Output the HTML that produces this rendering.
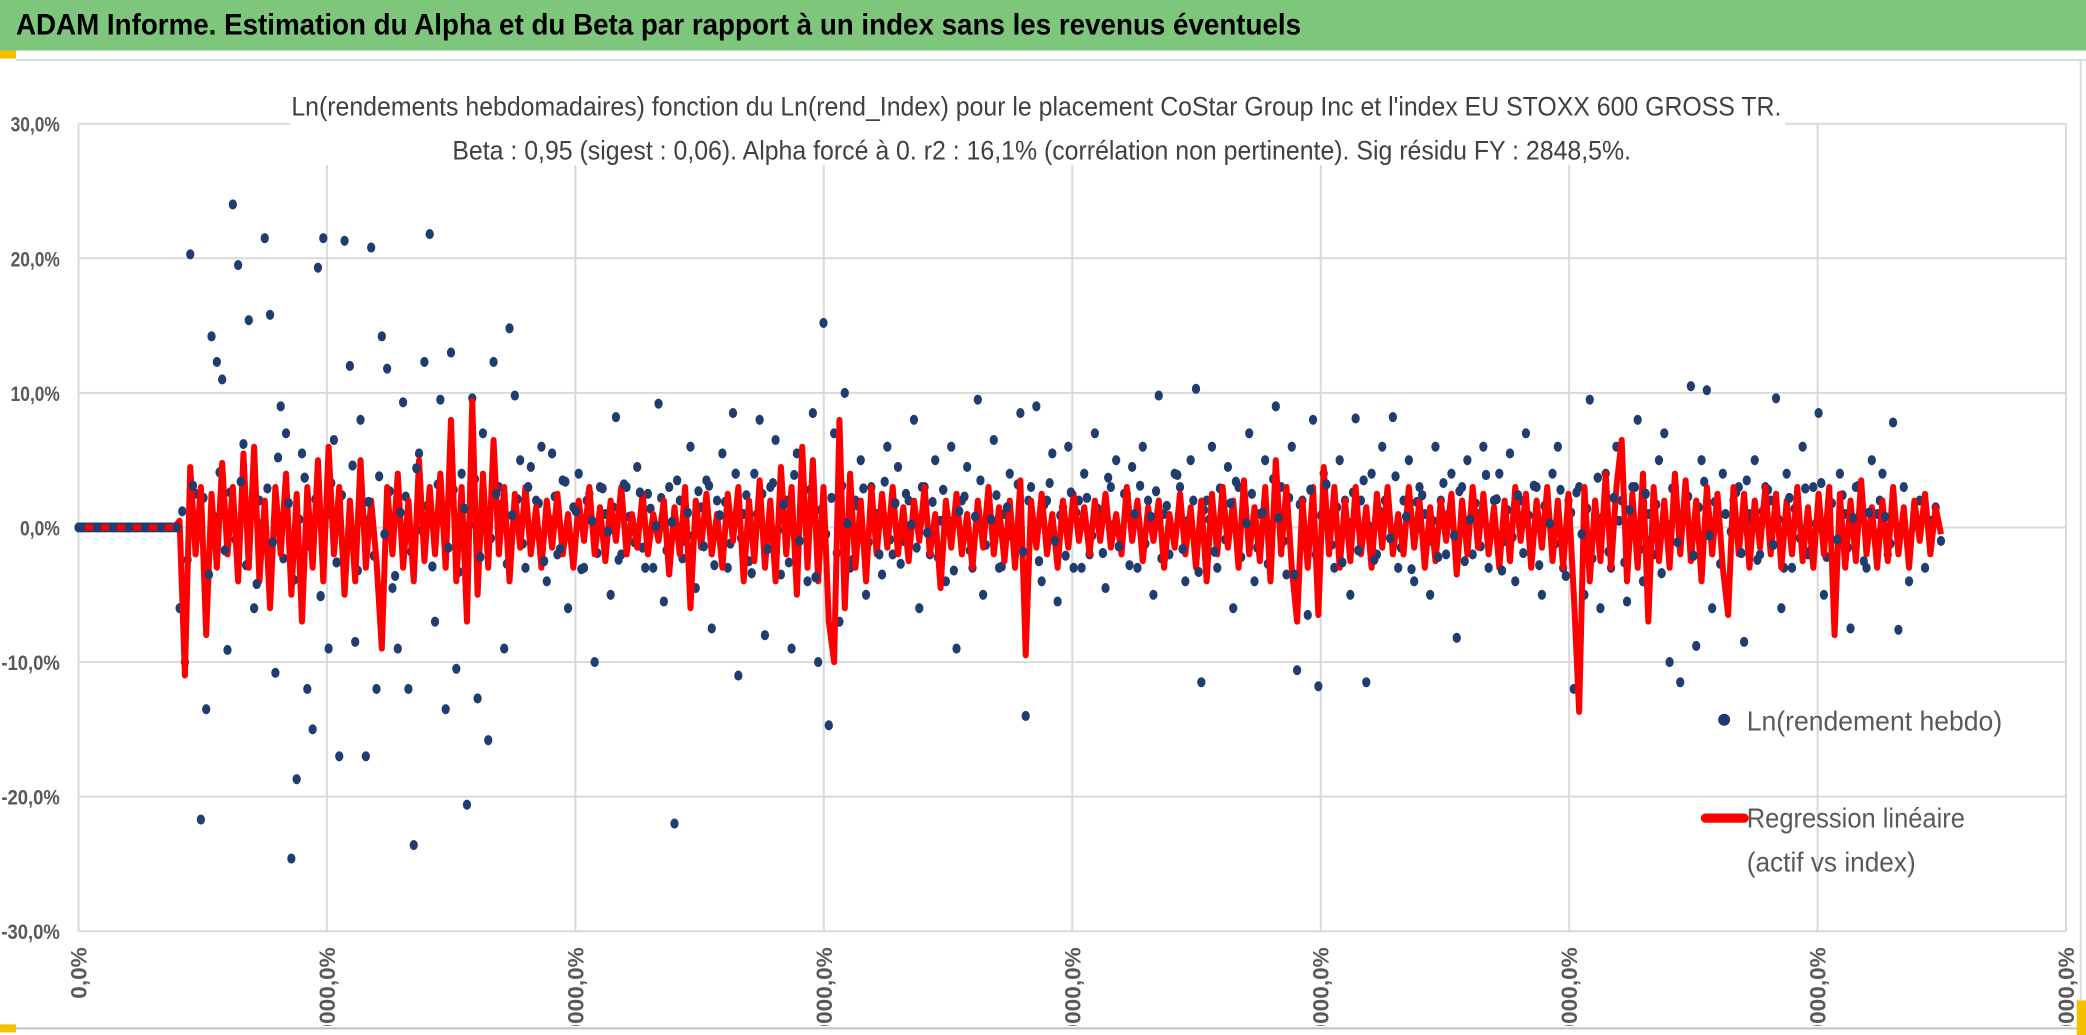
<!DOCTYPE html>
<html><head><meta charset="utf-8"><style>
html,body{margin:0;padding:0;background:#fff;}
svg{display:block;font-family:"Liberation Sans",sans-serif;}
</style></head><body>
<svg id="chart" width="2086" height="1035" viewBox="0 0 1568 778" preserveAspectRatio="none" xmlns="http://www.w3.org/2000/svg">
<defs><clipPath id="lblclip"><rect x="0" y="702" width="1568" height="69"/></clipPath></defs>
<rect x="0" y="0" width="1568" height="38" fill="#7dc67c"/>
<text x="12" y="26" font-size="22" font-weight="bold" fill="#000" textLength="966" lengthAdjust="spacingAndGlyphs">ADAM Informe. Estimation du Alpha et du Beta par rapport à un index sans les revenus éventuels</text>
<rect x="0" y="38" width="12" height="6" fill="#f5c000"/>
<line x1="12" y1="45" x2="1568" y2="45" stroke="#d9d9d9" stroke-width="1.5"/>
<g id="grid"></g>
<g id="marks"></g>
<rect x="218" y="66" width="1124" height="58" fill="#fff"/>
<text x="779" y="87" font-size="20" fill="#404040" text-anchor="middle" textLength="1120" lengthAdjust="spacingAndGlyphs">Ln(rendements hebdomadaires) fonction du Ln(rend_Index) pour le placement CoStar Group Inc et l'index EU STOXX 600 GROSS TR.</text>
<text x="783" y="120" font-size="20" fill="#404040" text-anchor="middle" textLength="886" lengthAdjust="spacingAndGlyphs">Beta : 0,95 (sigest : 0,06). Alpha forcé à 0. r2 : 16,1% (corrélation non pertinente). Sig résidu FY : 2848,5%.</text>
<g id="axes"></g>
<g id="xlabels" clip-path="url(#lblclip)"></g>
<g>
<circle cx="1296" cy="541" r="4.5" fill="#1f3a6e"/>
<text x="1313" y="549" font-size="21" fill="#595959" textLength="192" lengthAdjust="spacingAndGlyphs">Ln(rendement hebdo)</text>
<line x1="1282" y1="615" x2="1311" y2="615" stroke="#ff0000" stroke-width="7" stroke-linecap="round"/>
<text x="1313" y="622" font-size="21" fill="#595959" textLength="164" lengthAdjust="spacingAndGlyphs">Regression linéaire</text>
<text x="1313" y="655" font-size="21" fill="#595959" textLength="127" lengthAdjust="spacingAndGlyphs">(actif vs index)</text>
</g>
<line x1="0" y1="773" x2="1568" y2="773" stroke="#bfbfbf" stroke-width="1.5"/>
<rect x="0" y="770" width="12" height="6" fill="#f5c000"/>
<rect x="1561" y="752" width="7" height="26" fill="#f5c000"/>
<line x1="1564" y1="45" x2="1564" y2="752" stroke="#d9d9d9" stroke-width="1.5"/>
</svg>
<script>
const yTicks=[30,20,10,0,-10,-20,-30];
const yTickLabels=["30,0%","20,0%","10,0%","0,0%","-10,0%","-20,0%","-30,0%"];
const xTicks=[0,1,2,3,4,5,6,7,8];
const xTickLabels=["0,0%","10000,0%","20000,0%","30000,0%","40000,0%","50000,0%","60000,0%","70000,0%","80000,0%"];
const weekA=[0,0,0,0,0,0,0,0,0,0,0,0,0,0,0,0,0,0,0,
-6,-10,20.3,2.5,-21.7,-13.5,14.2,12.3,11,-9.1,
24,19.5,6.2,15.4,-6,2,21.5,15.8,-10.8,9,
7,-24.6,-18.7,5.5,-12,-15,19.3,21.5,-9,6.5,
-17,21.3,12,-8.5,8,-17,20.8,-12,14.2,11.8,
-4.5,-9,9.3,-12,-23.6,5.5,12.3,21.8,-7,9.5,
-13.5,13,-10.5,4,-20.6,9.6,-12.7,7,-15.8,12.3,
3,-9,14.8,9.8,5,-3,4.5,2,6,-4,
5.5,-2,3.5,-6,1.5,4,-3,2.5,-10,3,
1,-5,8.2,-2,3,0.5,4.5,-1.5,2.5,-3,
9.2,-5.5,3,-22,2,-1,6,-4.5,1.5,3.5,
-7.5,2,5.5,-3,8.5,-11,1,-2.5,4,8,
-8,3,6.5,-3.5,2,-9,5.5,1,-4,8.5,
-10,15.2,-14.7,7,-7,10,-3,2,5,-5,
3,1,-3.5,6,-2,4.5,-1,2,8,-6,
3,-2,5,0.5,-4,6,-9,2,4.5,-3,
9.5,-5,2,6.5,-3,1,4,-2,8.5,-14,
3,9,-4,2,5.5,-5.5,1.5,6,-3,2,
4,-2,7,1,-4.5,3,5,-1,2.5,4.5,
-3,6,2,-5,9.8,1,-2,4,3,-4,
5,10.3,-11.5,2,6,-3,1,4.5,-6,3,
2,7,-4,1,5,-2,9,3,-3.5,6,
-10.6,2,-6.5,8,-11.8,4,1,-3,5,2,
-5,8.1,2,-11.5,4,-2,6,1,8.2,-3,
2,5,-4,3,1,-5,6,2,-2,4,
-8.2,3,5,-2,1,6,-3,2,4,-1,
5.5,-4,2,7,-2,3,-5,1,4,6,
-3,2,-12,3,-5,9.5,1,-6,4,-3,
6,2,-5.5,3,8,-4,1,-2,5,7,
-10,3,-11.5,2,10.5,-8.8,5,10.2,-6,1,
4,-4,2,3,-8.5,1,5,-2,3,2,
9.6,-6,4,-3,1,6,-2,3,8.5,-5,
2,-4,4,1,-7.5,3,2,-3,5,1,
4,-2,7.8,-7.6,3,-4,1,2,-3,0.5,1.5,-1];
const weekB=[0,0,0,0,0,0,0,0,0,0,0,0,0,0,0,0,0,0,0,
1.2,-2.4,3.1,-0.6,2.2,-3.5,0.8,4.1,-1.7,2.6,
-0.9,3.4,-2.8,1.5,-4.2,0.3,2.9,-1.1,5.2,-2.3,
1.8,-3.9,0.6,3.7,-1.4,2.1,-5.1,0.9,3.3,-2.6,
2.4,-1.3,4.6,-3.2,0.7,1.9,-2.1,3.8,-0.5,2.7,
-3.6,1.1,2.3,-1.8,4.4,-0.2,1.6,-2.9,3.2,0.4,
-1.5,2.8,-3.3,1.4,0.2,3.6,-2.2,1.3,-0.8,2.5,
1.7,-2.7,0.9,2.1,-1.2,3,-0.4,1.8,-2.5,0.6,
2.3,-1.6,3.4,-0.7,1.2,-3.1,2,0.5,-1.9,2.9,
-0.3,1.5,-2.4,3.2,0.8,-1.1,2.6,-3,1.4,0.1,
2.2,-1.7,0.4,3.5,-2.3,1.1,-0.6,2.7,-1.4,3.1,
-2.8,0.9,1.9,-1.2,4,-0.8,2.4,-3.4,1,2.5,
-1.6,3.3,-0.2,1.7,-2.6,3.9,-1,0.6,2.8,-3.7,
1.3,-0.5,2.2,-1.9,3.1,0.3,-2.4,1.6,2.9,-1.1,
0.7,-2,3.4,-0.9,1.8,-2.7,2.5,0.2,-1.5,3,
-0.4,1.9,-2.2,2.8,0.5,-3.2,1.2,2.3,-1.7,0.8,
3.5,-1.3,0.6,2.4,-2.9,1.5,-0.7,3.2,-1.8,2,
0.4,-2.5,1.7,3.3,-1,0.9,-2.1,2.6,1.1,-3,
2.2,-0.6,1.4,-1.9,3.7,0.2,-1.4,2.5,-2.8,1,
3.1,-1.2,0.8,2.7,-2.3,1.6,-0.3,3.9,-1.6,0.5,
2,-3.3,1.3,0.6,-1.8,2.9,-0.9,1.8,3.4,-2.2,
0.3,2.5,-1.5,1.1,-2.7,3.6,0.7,-1,2.2,-3.5,
1.7,-0.4,2.8,-2,0.9,3.2,-1.3,1.5,-2.6,0.4,
2.6,-1.7,3.5,0.1,-2.4,1.2,2,-0.8,3.8,-1.5,
0.8,-3.1,1.9,2.4,-1.1,0.5,-2.2,3.3,1,-0.6,
2.7,-2.5,0.6,1.8,-1.4,3.9,-0.2,2.1,-3.2,1.3,
-0.7,2.4,-1.9,0.9,3.1,-2.8,1.6,0.3,-1.2,2.8,
-3.6,1.1,2.6,-0.5,1.4,-2.3,3.7,0.8,-1.8,2.2,
0.5,-2.6,1.3,3,-1.6,2.5,-0.9,1.7,-3.4,0.2,
2.9,-1.1,0.7,2.3,-2.1,1.5,3.4,-0.6,1.9,-2.7,
1,-0.3,2.6,-1.9,3.5,0.4,-2.4,1.2,2.8,-1.3,
0.6,-3,2.2,1.4,-0.8,2.9,-1.7,0.3,3.3,-2.2,
1.8,-0.9,2.4,-1.5,0.7,3.1,-2.5,1.1,-0.4,2,0.8,-1.2];
const regression=[0,0,0,0,0,0,0,0,0,0,0,0,0,0,0,0,0,0,0,
0.5,-11,4.5,-2,3,-8,2.5,-3,4.8,-2,
3,-4,5.5,-3,6,-4,2,-6,3,-2,
4,-5,2.5,-7,3,-3,5,-4,6,-2,
3,-5,2,-4,5,-3,2,-2.5,-9,3,
-2,4,-3,2,-4,5,-2.5,3,-2,4,
-3,8,-4,3,-7,9.4,-5,4,-3,6.5,
-2,3,-4,2.5,-1.5,3,-2,1.5,-3,2,
-1.5,2.5,-2,1,-3,2,-1,3,-2,1.5,
-2.5,2,-1,3,-2,1,-1.5,2.5,-2,1,
-1,2,-3.5,1.5,-2,3,-6,2,-1.5,2.5,
-2,1,-3,2.5,-1,3,-4,2,-2.5,3.5,
-3,2,-4,4.5,-2,3,-5,6,-3,5,
-4,3,-7,-10,8,-6,4,-3,2,-4,
3,-2,2.5,-1.5,3,-2,1.5,-2.5,2,-1,
3,-2,1,-4.5,2,-1.5,2.5,-2,1,-3,
2,-1.5,3,-2,1.5,-2.5,2,-3,3.5,-9.5,
2,-1.5,2.5,-2,1,-3,2,-1.5,2.5,-1,
1.5,-2,2,-1,2.5,-1.5,1,-2,3,-1,
2,-2.5,1.5,-1,2,-3,1,-1.5,2.5,-2,
1.5,-3,2,-4,2.5,-2,3,-1.5,2,-3,
3.5,-2,1.5,-2.5,3,-4,5,-2,3,-3,
-7,2,-3,3,-6.5,4.5,-2,3,-3,2,
-2.5,3,-2,1.5,-3,2.5,-1.5,3,-2,1,
-2,3,-1.5,2,-3,1.5,-2.5,2,-1,2.5,
-3.5,2,-2,3,-1.5,2.5,-2,1.5,-3,2,
-2.5,3,-1,2.5,-3,2,-1.5,3,-2.5,2,
-3,2.5,-5,-13.7,3,-4,2,-2.5,4,-3,
3,6.5,-4,2.5,-3,4,-7,3,-2.5,2,
-3,4,-2,3.5,-2.5,2,-4,3,-2,2.5,
-3,-6.5,3,-2,2.5,-3,2,-1.5,3,-2,
2.5,-3,2,-2,3,-2.5,1.5,-3,2.5,-2,
3,-8,2.5,-3,2,-2.5,3.5,-2,1.5,-3,
2,-2.5,3,-2,1.5,-3,2,-1,2.5,-2,1.5,-0.5];

const NS="http://www.w3.org/2000/svg";
const X0=59,X1=1553,Y0=93,Y1=700;
const xTickMax=8, idxPerTick=46.6875;
function xScaleTick(t){return X0+(X1-X0)*t/xTickMax;}
function xScaleIdx(i){return X0+(X1-X0)*i/(xTickMax*idxPerTick);}
function yScale(v){return Y1-(v+30)/60*(Y1-Y0);}

const grid=document.getElementById('grid');
const axes=document.getElementById('axes');
const xlabels=document.getElementById('xlabels');
const marks=document.getElementById('marks');

yTicks.forEach((v,k)=>{
  const l=document.createElementNS(NS,'line');
  
  
  l.setAttribute('x1',X0);l.setAttribute('x2',X1);
  l.setAttribute('y1',yScale(v));l.setAttribute('y2',yScale(v));
  l.setAttribute('stroke','#d9d9d9');l.setAttribute('stroke-width','1.5');
  grid.appendChild(l);
  const t=document.createElementNS(NS,'text');
  
  
  t.setAttribute('x',45);t.setAttribute('y',yScale(v)+6);
  t.setAttribute('text-anchor','end');t.setAttribute('font-size','16');
  t.setAttribute('font-weight','bold');t.setAttribute('fill','#595959');
  const lab=yTickLabels[k];
  t.setAttribute('textLength',(lab.length*7.4).toFixed(0));
  t.setAttribute('lengthAdjust','spacingAndGlyphs');
  t.textContent=lab;
  axes.appendChild(t);
});
xTicks.forEach((v,k)=>{
  const x=xScaleTick(v);
  const l=document.createElementNS(NS,'line');
  
  
  l.setAttribute('x1',x);l.setAttribute('x2',x);
  l.setAttribute('y1',Y0);l.setAttribute('y2',Y1);
  l.setAttribute('stroke','#d9d9d9');l.setAttribute('stroke-width','1.5');
  grid.appendChild(l);
  const t=document.createElementNS(NS,'text');
  
  
  t.setAttribute('transform','translate('+(x+6)+',712) rotate(-90)');
  t.setAttribute('text-anchor','end');t.setAttribute('font-size','17');
  t.setAttribute('font-weight','bold');t.setAttribute('fill','#595959');
  t.textContent=xTickLabels[k];
  xlabels.appendChild(t);
});

function dot(x,v){
  const c=document.createElementNS(NS,'ellipse');
  
  
  c.setAttribute('cx',x);c.setAttribute('cy',yScale(v));
  c.setAttribute('rx',3.1);c.setAttribute('ry',3.8);
  c.setAttribute('fill','#203d70');
  marks.appendChild(c);
}
weekA.forEach((v,i)=>dot(xScaleIdx(i),v));
weekB.forEach((v,i)=>dot(xScaleIdx(i+0.5),v));

let d='';
regression.forEach((v,i)=>{d+=(i?'L':'M')+xScaleIdx(i).toFixed(1)+','+yScale(v).toFixed(1);});
const p=document.createElementNS(NS,'path');


p.setAttribute('d',d);p.setAttribute('fill','none');
p.setAttribute('stroke','#ff0000');p.setAttribute('stroke-width','4.5');
p.setAttribute('stroke-linejoin','round');
marks.appendChild(p);
weekB.forEach((v,i)=>{ if(i%3===0) dot(xScaleIdx(i+0.5),v); });
</script>
</body></html>
